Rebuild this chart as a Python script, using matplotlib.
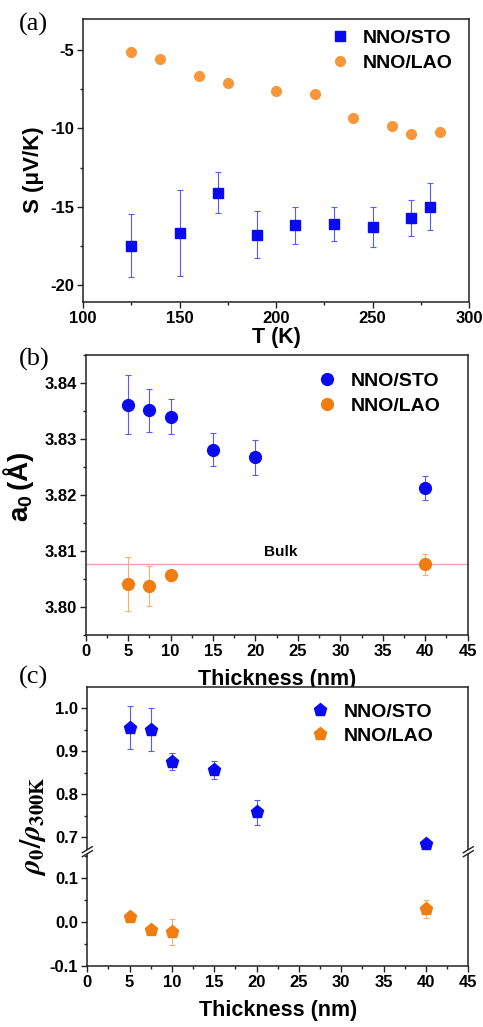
import matplotlib
matplotlib.use("Agg")
import matplotlib.pyplot as plt
from matplotlib.lines import Line2D
from matplotlib.patches import Polygon
from matplotlib.ticker import MultipleLocator

plt.rcParams['font.family'] = ['Liberation Sans', 'DejaVu Sans']
plt.rcParams['font.weight'] = 'bold'
plt.rcParams['axes.unicode_minus'] = False
plt.rcParams['mathtext.fontset'] = 'custom'
plt.rcParams['mathtext.rm'] = 'Liberation Sans'
plt.rcParams['mathtext.bf'] = 'Liberation Sans:bold'
plt.rcParams['mathtext.it'] = 'Liberation Sans:italic'

# ---------------- data ----------------
# (a) Seebeck coefficient vs temperature
T_sto = [125, 150, 170, 190, 210, 230, 250, 270, 280]
S_sto = [-17.5, -16.7, -14.1, -16.8, -16.2, -16.1, -16.3, -15.7, -15.0]
S_sto_err = [2.0, 2.75, 1.3, 1.5, 1.2, 1.1, 1.3, 1.15, 1.5]
T_lao = [125, 140, 160, 175, 200, 220, 240, 260, 270, 285]
S_lao = [-5.1, -5.55, -6.65, -7.1, -7.6, -7.8, -9.35, -9.85, -10.35, -10.2]

# (b) lattice parameter vs thickness
thk_sto_b = [5, 7.5, 10, 15, 20, 40]
a0_sto = [3.8361, 3.8351, 3.8340, 3.8281, 3.8267, 3.8212]
a0_sto_err = [0.0053, 0.0038, 0.0032, 0.0030, 0.0031, 0.0022]
thk_lao_b = [5, 7.5, 10, 40]
a0_lao = [3.8041, 3.8037, 3.8056, 3.8076]
a0_lao_err = [0.0048, 0.0035, 0.0010, 0.0019]
a0_bulk = 3.8076

# (c) residual resistivity ratio vs thickness
thk_sto_c = [5, 7.5, 10, 15, 20, 40]
rho_sto = [0.955, 0.950, 0.876, 0.857, 0.758, 0.684]
rho_sto_err = [0.050, 0.050, 0.020, 0.021, 0.030, 0.008]
thk_lao_c = [5, 7.5, 10, 40]
rho_lao = [0.010, -0.019, -0.023, 0.029]
rho_lao_err = [0.008, 0.008, 0.030, 0.020]

BLUE = '#0A0AF0'
BLUE_ERR = '#5A5AF5'
ORANGE_A = '#F8973A'
ORANGE = '#EF7D12'
ORANGE_ERR = '#F5B070'

W, H = 483, 1027
fig = plt.figure(figsize=(W / 100, H / 100), dpi=100)


def fbox(l, t, r, b):
    return [l / W, 1 - b / H, (r - l) / W, (b - t) / H]


def fx(px):
    return px / W


def fy(py):
    return 1 - py / H


def style(ax):
    for s in ax.spines.values():
        s.set_linewidth(1.1)
        s.set_color('#222222')
    ax.tick_params(which='both', direction='out', top=False, right=False,
                   labelsize=12, width=1.0, color='#222222', pad=2)
    ax.tick_params(which='major', length=4.5)
    ax.tick_params(which='minor', length=2.5)


LEG = dict(loc='upper left', frameon=False, handlelength=1.0, handletextpad=0.7,
           labelspacing=0.35, borderaxespad=0.2, borderpad=0.2,
           prop={'weight': 'bold', 'size': 14})

# ---------------- (a) ----------------
axa = fig.add_axes(fbox(83, 19, 469, 302))
axa.errorbar(T_sto, S_sto, yerr=S_sto_err, fmt='none', ecolor=BLUE_ERR,
             elinewidth=0.8, capsize=2.5, capthick=0.8)
axa.plot(T_sto, S_sto, 's', color=BLUE, ms=7, mec=BLUE, label='NNO/STO')
axa.plot(T_lao, S_lao, 'o', color=ORANGE_A, ms=7, mec=ORANGE_A, label='NNO/LAO')
axa.set_xlim(100, 300)
axa.set_ylim(-21.1, -3.0)
axa.xaxis.set_major_locator(MultipleLocator(50))
axa.xaxis.set_minor_locator(MultipleLocator(25))
axa.set_yticks([-5, -10, -15, -20])
axa.yaxis.set_minor_locator(MultipleLocator(2.5))
style(axa)
axa.set_xlabel('T (K)', fontsize=15.5, fontweight='bold')
axa.xaxis.set_label_coords(0.5, -0.088)
axa.legend(bbox_to_anchor=(0.62, 0.99), **LEG)
fig.text(fx(33), fy(170), 'S (μV/K)', fontsize=16, fontweight='bold',
         rotation=90, ha='center', va='center')

# ---------------- (b) ----------------
axb = fig.add_axes(fbox(85.7, 355, 467.7, 634.7))
axb.axhline(a0_bulk, color='#F5A0AE', lw=1.0, zorder=1)
axb.text(23, 3.8097, 'Bulk', fontsize=11, fontweight='bold', ha='center', va='center')
axb.errorbar(thk_sto_b, a0_sto, yerr=a0_sto_err, fmt='none', ecolor=BLUE_ERR,
             elinewidth=0.8, capsize=2.5, capthick=0.8)
axb.errorbar(thk_lao_b, a0_lao, yerr=a0_lao_err, fmt='none', ecolor=ORANGE_ERR,
             elinewidth=0.8, capsize=2.5, capthick=0.8)
axb.plot(thk_sto_b, a0_sto, 'o', color=BLUE, ms=8.5, label='NNO/STO')
axb.plot(thk_lao_b, a0_lao, 'o', color=ORANGE, ms=8.5, label='NNO/LAO')
axb.set_xlim(0, 45)
axb.set_ylim(3.795, 3.845)
axb.xaxis.set_major_locator(MultipleLocator(5))
axb.xaxis.set_minor_locator(MultipleLocator(2.5))
axb.set_yticks([3.80, 3.81, 3.82, 3.83, 3.84])
axb.set_yticklabels(['3.80', '3.81', '3.82', '3.83', '3.84'])
axb.yaxis.set_minor_locator(MultipleLocator(0.005))
style(axb)
axb.set_xlabel('Thickness (nm)', fontsize=15.5, fontweight='bold')
axb.xaxis.set_label_coords(0.5, -0.122)
axb.legend(bbox_to_anchor=(0.587, 0.965), **LEG)
fig.text(fx(18), fy(487), r'$\mathbf{a}_\mathbf{0}\,\mathrm{(Å)}$', fontsize=20,
         rotation=90, ha='center', va='center')

# ---------------- (c) broken axis ----------------
c_l, c_t, c_r, c_b, c_br = 87.3, 687, 468.3, 965.7, 851.7
axu = fig.add_axes(fbox(c_l, c_t, c_r, c_br))
axl = fig.add_axes(fbox(c_l, c_br, c_r, c_b), sharex=axu)
for ax in (axu, axl):
    ax.errorbar(thk_sto_c, rho_sto, yerr=rho_sto_err, fmt='none', ecolor=BLUE_ERR,
                elinewidth=0.8, capsize=2.5, capthick=0.8)
    ax.errorbar(thk_lao_c, rho_lao, yerr=rho_lao_err, fmt='none', ecolor=ORANGE_ERR,
                elinewidth=0.8, capsize=2.5, capthick=0.8)
    ax.plot(thk_sto_c, rho_sto, 'p', color=BLUE, ms=9.5, label='NNO/STO')
    ax.plot(thk_lao_c, rho_lao, 'p', color=ORANGE, ms=9.5, label='NNO/LAO')
axu.set_ylim(0.667, 1.049)
axl.set_ylim(-0.1, 0.16)
axu.set_xlim(0, 45)
axu.xaxis.set_major_locator(MultipleLocator(5))
axu.xaxis.set_minor_locator(MultipleLocator(2.5))
axu.set_yticks([0.7, 0.8, 0.9, 1.0])
axu.yaxis.set_minor_locator(MultipleLocator(0.05))
axl.set_yticks([-0.1, 0.0, 0.1])
axl.yaxis.set_minor_locator(MultipleLocator(0.05))
axu.spines['bottom'].set_visible(False)
axl.spines['top'].set_visible(False)
style(axu)
style(axl)
axu.tick_params(axis='x', which='both', bottom=False, labelbottom=False)
axl.set_xlabel('Thickness (nm)', fontsize=15.5, fontweight='bold')
axl.xaxis.set_label_coords(0.5, -0.30)
axu.legend(bbox_to_anchor=(0.566, 0.95), **LEG)
fig.text(fx(33), fy(826), r'$\rho_0/\rho_{300\mathrm{K}}$', fontsize=21,
         rotation=90, ha='center', va='center', math_fontfamily='stix')

# break marks
for xp in (c_l, c_r):
    bx, by = fx(xp), fy(c_br)
    dx, dy = 5 / W, 3 / H
    gap = 2.0 / H
    fig.add_artist(Polygon([(bx - 1.5 / W, by - gap), (bx + 1.5 / W, by - gap),
                            (bx + 1.5 / W, by + gap), (bx - 1.5 / W, by + gap)],
                           closed=True, transform=fig.transFigure,
                           facecolor='white', edgecolor='none', zorder=10))
    for off in (-gap, gap):
        fig.add_artist(Line2D([bx - dx, bx + dx], [by + off - dy, by + off + dy],
                              transform=fig.transFigure, color='#222222',
                              lw=1.0, zorder=11))

# panel labels
for lab, ytop in (('(a)', 13), ('(b)', 348), ('(c)', 666)):
    fig.text(fx(19), fy(ytop), lab, fontsize=19, family='Liberation Serif',
             fontweight='normal', va='top', ha='left')

fig.canvas.draw()
for ax in (axa, axb, axu, axl):
    for lab in ax.get_xticklabels() + ax.get_yticklabels():
        lab.set_fontweight('bold')

fig.savefig('out.png', dpi=100)
